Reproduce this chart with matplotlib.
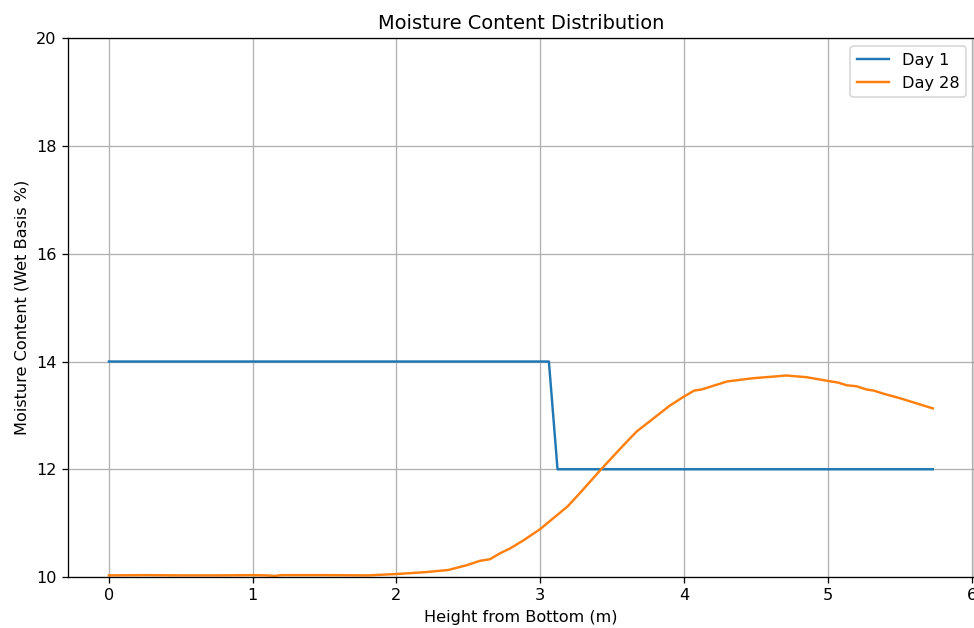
import numpy as np
import matplotlib
matplotlib.use('Agg')
import matplotlib.pyplot as plt

# Day 1 profile (step between layers)
height_day1 = [0.0, 3.06, 3.12, 5.73]
moisture_day1 = [14.0, 14.0, 12.0, 12.0]

# Day 28 profile
height_day28 = [0.0, 0.25, 0.5, 0.75, 1.0, 1.1, 1.15, 1.2, 1.5, 1.8,
                2.0, 2.2, 2.36, 2.49, 2.58, 2.65, 2.72, 2.79, 2.88, 3.0,
                3.09, 3.19, 3.28, 3.42, 3.58, 3.67, 3.79, 3.9, 4.0, 4.07,
                4.12, 4.3, 4.48, 4.71, 4.85, 5.0, 5.07, 5.13, 5.2, 5.27,
                5.32, 5.39, 5.5, 5.73]
moisture_day28 = [10.03, 10.035, 10.03, 10.03, 10.035, 10.03, 10.02, 10.035, 10.035, 10.03,
                  10.055, 10.09, 10.13, 10.22, 10.30, 10.33, 10.44, 10.53, 10.675, 10.89,
                  11.09, 11.31, 11.57, 11.99, 12.45, 12.70, 12.95, 13.18, 13.35, 13.46,
                  13.48, 13.63, 13.69, 13.74, 13.71, 13.64, 13.61, 13.56, 13.54, 13.48,
                  13.46, 13.40, 13.32, 13.13]

dpi = 116
fig = plt.figure(figsize=(974 / dpi, 628 / dpi), dpi=dpi)
ax = fig.add_axes([67.7 / 974, 51 / 628, (974 - 67.7) / 974, (577 - 38.3) / 628])

ax.plot(height_day1, moisture_day1, label='Day 1')
ax.plot(height_day28, moisture_day28, label='Day 28')

ax.set_ylim(10, 20)
ax.set_xlabel('Height from Bottom (m)')
ax.set_ylabel('Moisture Content (Wet Basis %)')
ax.set_title('Moisture Content Distribution')
ax.legend(loc='upper right')
ax.grid(True)

fig.savefig('out.png', dpi=dpi)
